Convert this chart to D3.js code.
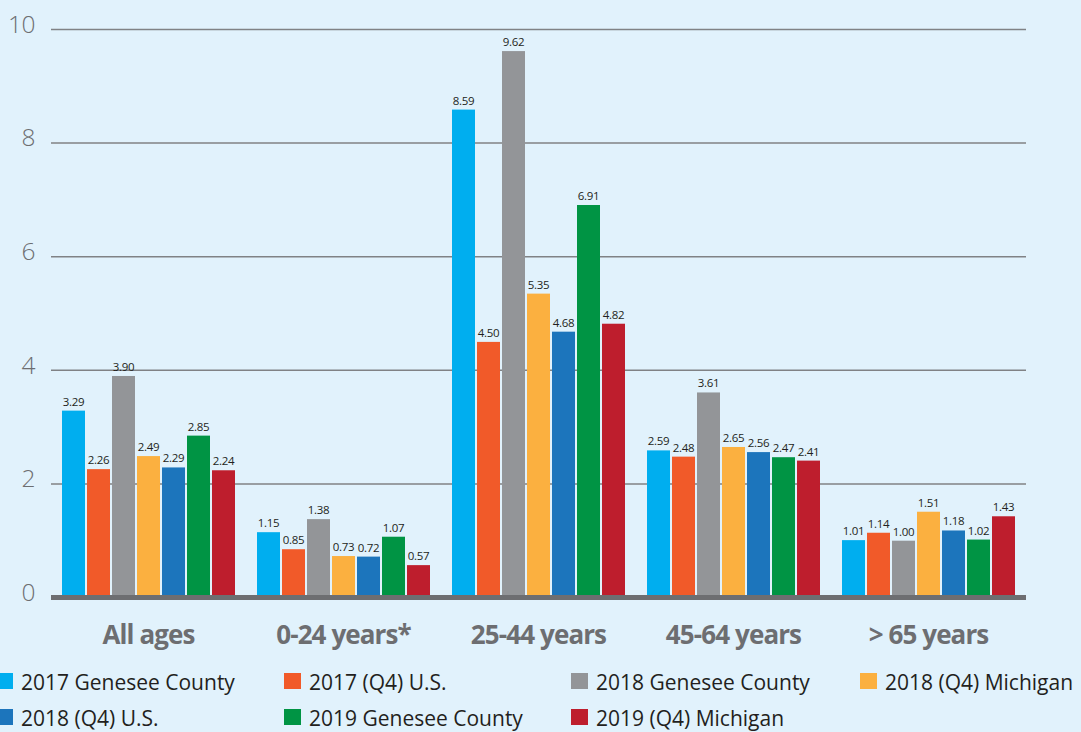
<!DOCTYPE html>
<html><head><meta charset="utf-8">
<script src="https://cdn.jsdelivr.net/npm/d3@7"></script>
<style>
html,body{margin:0;padding:0;background:#e1f2fc;}
svg{display:block;}
</style></head>
<body>
<svg id="chart" width="1081" height="732"></svg>
<script>
const categories = ["All ages", "0-24 years*", "25-44 years", "45-64 years", "> 65 years"];
const seriesNames = ["2017 Genesee County", "2017 (Q4) U.S.", "2018 Genesee County", "2018 (Q4) Michigan", "2018 (Q4) U.S.", "2019 Genesee County", "2019 (Q4) Michigan"];
const s2017Genesee = [3.29, 1.15, 8.59, 2.59, 1.01];
const s2017US      = [2.26, 0.85, 4.50, 2.48, 1.14];
const s2018Genesee = [3.90, 1.38, 9.62, 3.61, 1.00];
const s2018MI      = [2.49, 0.73, 5.35, 2.65, 1.51];
const s2018US      = [2.29, 0.72, 4.68, 2.56, 1.18];
const s2019Genesee = [2.85, 1.07, 6.91, 2.47, 1.02];
const s2019MI      = [2.24, 0.57, 4.82, 2.41, 1.43];
const yTicks = [0, 2, 4, 6, 8, 10];
const colors = ["#00aeef", "#f15a29", "#939598", "#fbb040", "#1c75bc", "#009444", "#be1e2d"];

const seriesValues = [s2017Genesee, s2017US, s2018Genesee, s2018MI, s2018US, s2019Genesee, s2019MI];

const svg = d3.select("#chart");
const plotLeft = 51, plotRight = 1026, plotTop = 29.5, plotBottom = 597.5;

const x0 = d3.scaleBand().domain(categories).range([plotLeft, plotRight]).paddingInner(0).paddingOuter(0);
const x1 = d3.scaleBand().domain(d3.range(seriesNames.length)).range([11, x0.bandwidth() - 11]).paddingInner(2/25).paddingOuter(0);
const y = d3.scaleLinear().domain([0, 10]).range([plotBottom, plotTop]);

// gridlines
svg.append("g").selectAll("line").data(yTicks.filter(t => t > 0)).join("line")
  .attr("x1", plotLeft).attr("x2", plotRight)
  .attr("y1", d => y(d)).attr("y2", d => y(d))
  .attr("stroke", "#808285").attr("stroke-width", 1.5);

// y labels
const yAxis = d3.axisLeft(y).tickValues(yTicks).tickSize(0).tickPadding(0).tickFormat(d3.format("d"));
const yg = svg.append("g").attr("transform", `translate(35,0)`).call(yAxis);
yg.select(".domain").remove();
yg.selectAll("text")
  .attr("font-family", "'Open Sans', sans-serif").attr("font-weight", 300)
  .attr("font-size", 24.5).attr("fill", "#6d6e71").attr("dy", "0.32em")
  .attr("letter-spacing", -0.5)
  .attr("transform", "translate(0,-5)");

// bars
const groups = svg.append("g").selectAll("g").data(categories).join("g")
  .attr("transform", d => `translate(${x0(d)},0)`);

groups.each(function(cat, ci) {
  const g = d3.select(this);
  const data = seriesValues.map((vals, si) => ({si, v: vals[ci]}));
  g.selectAll("rect").data(data).join("rect")
    .attr("x", d => x1(d.si)).attr("width", x1.bandwidth())
    .attr("y", d => y(d.v)).attr("height", d => y(0) - y(d.v))
    .attr("fill", d => colors[d.si]);
  g.selectAll("text").data(data).join("text")
    .attr("x", d => x1(d.si) + x1.bandwidth() / 2)
    .attr("y", d => y(d.v) - 5)
    .attr("text-anchor", "middle")
    .attr("font-family", "'Open Sans', sans-serif")
    .attr("font-size", 11.5).attr("letter-spacing", -0.3)
    .attr("fill", "#231f20")
    .text(d => d3.format(".2f")(d.v));
});

// baseline
svg.append("line").attr("x1", plotLeft).attr("x2", plotRight)
  .attr("y1", y(0)).attr("y2", y(0))
  .attr("stroke", "#6d6e71").attr("stroke-width", 5);

// category labels
const xAxis = d3.axisBottom(x0).tickSize(0).tickPadding(0);
const xg = svg.append("g").attr("transform", `translate(0,644)`).call(xAxis);
xg.select(".domain").remove();
xg.selectAll("text")
  .attr("font-family", "'Open Sans', sans-serif").attr("font-weight", 700)
  .attr("font-size", 26).attr("fill", "#6d6e71").attr("letter-spacing", -0.9)
  .attr("dy", 0);

// legend
const legendPos = [[-4, 681], [284, 681], [571, 681], [860, 681], [-4, 717], [284, 717], [571, 717]];
const lg = svg.append("g").selectAll("g").data(seriesNames).join("g")
  .attr("transform", (d, i) => `translate(${legendPos[i][0]},${legendPos[i][1]})`);
lg.append("rect").attr("x", 0).attr("y", -8).attr("width", 17).attr("height", 16)
  .attr("fill", (d, i) => colors[i]);
lg.append("text").attr("x", 25).attr("y", 8.5)
  .attr("font-family", "'Open Sans', sans-serif").attr("font-size", 21)
  .attr("fill", "#231f20").text(d => d);
</script>
</body></html>
